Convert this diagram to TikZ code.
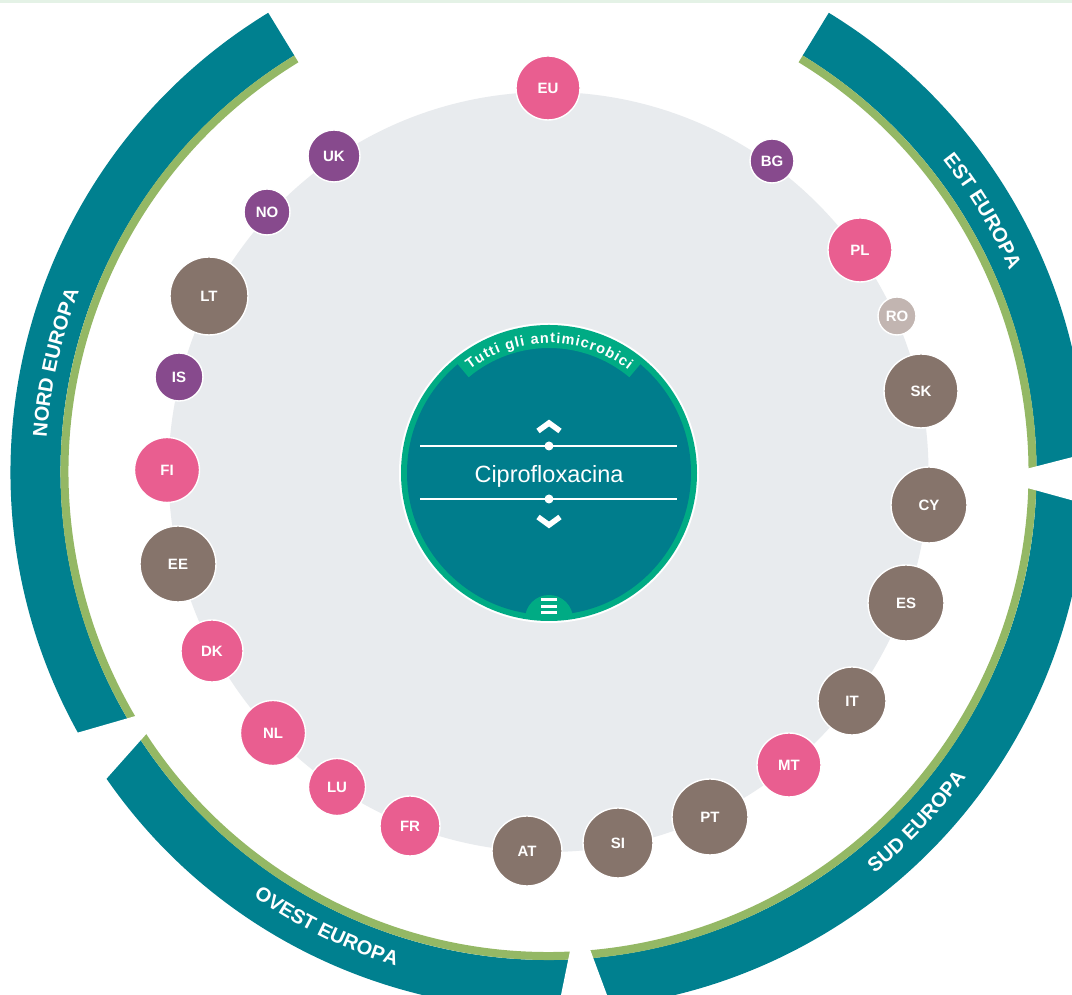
\documentclass[tikz,border=0pt]{standalone}
\usepackage{fontspec}
\setmainfont{Liberation Sans}
\usetikzlibrary{decorations.text}

\definecolor{bandteal}{HTML}{00808F}
\definecolor{bandgreen}{HTML}{94B865}
\definecolor{diskgrey}{HTML}{E8EBEE}
\definecolor{topstrip}{HTML}{E4F2E6}
\definecolor{ringgreen}{HTML}{00AB84}
\definecolor{hubteal}{HTML}{007D8C}
\definecolor{cpink}{HTML}{E95E90}
\definecolor{cpurple}{HTML}{874A8D}
\definecolor{cbrown}{HTML}{86746B}
\definecolor{clight}{HTML}{C2B5B1}

\newcommand\bandfont{\fontsize{20}{20}\selectfont\bfseries}
\newcommand\tabfont{\fontsize{14.5}{14.5}\selectfont\bfseries}
\newcommand\codefont{\fontsize{15}{15}\selectfont\bfseries}

\tikzset{
  ctry/.style={circle, draw=white, line width=1.4pt, text=white, font=\codefont, inner sep=0pt},
  pinkc/.style={ctry, fill=cpink},
  purplec/.style={ctry, fill=cpurple},
  brownc/.style={ctry, fill=cbrown},
  lightc/.style={ctry, fill=clight},
  bandlabel/.style={decorate, decoration={text along path, text align=center, text color=white, text={|\bandfont|#1}}},
  wline/.style={white, line width=1.5pt},
  chevron/.style={white, line width=5.5pt, line join=miter},
}

\begin{document}
\begin{tikzpicture}[x=1pt, y=1pt]
\useasboundingbox (0,0) rectangle (1072,995);
\clip (0,0) rectangle (1072,995);
\fill[white] (0,0) rectangle (1072,995);
\fill[topstrip] (0,992) rectangle (1072,995);

% grey disk carrying the country markers
\fill[diskgrey] (548.5,523) circle[radius=380];

% regional ring: teal band with a green inner edge
\begin{scope}[shift={(548.5,523)}]
  \fill[bandteal] (121.4:538) arc[start angle=121.4, end angle=418.6, radius=538]
     -- (418.6:488) arc[start angle=418.6, end angle=121.4, radius=488] -- cycle;
  \fill[bandgreen] (121.4:488) arc[start angle=121.4, end angle=418.6, radius=488]
     -- (418.6:480) arc[start angle=418.6, end angle=121.4, radius=480] -- cycle;
\end{scope}

% wedge-shaped cuts between the regions
\fill[white] (991,517) -- (1100,545) -- (1100,487) -- cycle;
\fill[white] (171.6,289.4) -- (21,246) -- (67,172) -- cycle;
\fill[white] (577.3,79.9) -- (551,-49) -- (626,-51) -- cycle;

% region names along the band
\begin{scope}[shift={(548.5,523)}]
  \path[bandlabel={NORD EUROPA}] (200:503) arc[start angle=200, end angle=135, radius=503];
  \path[bandlabel={EST EUROPA}] (63:503) arc[start angle=63, end angle=-1, radius=503];
  \path[bandlabel={SUD EUROPA}] (-75:517) arc[start angle=-75, end angle=-12, radius=517];
  \path[bandlabel={OVEST EUROPA}] (212:517) arc[start angle=212, end angle=276, radius=517];
\end{scope}

% central selector
\begin{scope}[shift={(549,522)}]
  \fill[white] (0,0) circle[radius=150];
  \fill[ringgreen] (0,0) circle[radius=148];
  \fill[hubteal] (0,0) circle[radius=142];
  \fill[ringgreen] (130:145) arc[start angle=130, end angle=50, radius=145]
     -- (50:125) arc[start angle=50, end angle=130, radius=125] -- cycle;
  \path[decorate, decoration={text along path, text align={fit to path}, text color=white,
      text={|\tabfont|Tutti gli antimicrobici}}]
      (127.5:130) arc[start angle=127.5, end angle=52.5, radius=130];
  \begin{scope}
    \clip (0,0) circle[radius=146];
    \fill[ringgreen] (0,-146) circle[radius=24];
  \end{scope}
  \draw[wline] (-129,27) -- (128,27);
  \draw[wline] (-129,-26) -- (128,-26);
  \fill[white] (0,27) circle[radius=4.5];
  \fill[white] (0,-26) circle[radius=4.5];
  \draw[chevron] (-11,42) -- (0,50) -- (11,42);
  \draw[chevron] (-11,-44) -- (0,-52) -- (11,-44);
  \node[anchor=base, text=white, font=\fontsize{23.5}{23.5}\selectfont] (drug) at (0,-10) {Ciprofloxacina};
  \draw[white, line width=3pt] (-8,-127) -- (8,-127);
  \draw[white, line width=3pt] (-8,-133.5) -- (8,-133.5);
  \draw[white, line width=3pt] (-8,-140) -- (8,-140);
\end{scope}

% country markers
\node[pinkc, minimum size=64pt] (EU) at (548,{995-88}) {EU};
\node[purplec, minimum size=44pt] (BG) at (772,{995-161}) {BG};
\node[pinkc, minimum size=64pt] (PL) at (860,{995-250}) {PL};
\node[lightc, minimum size=38pt] (RO) at (897,{995-316}) {RO};
\node[brownc, minimum size=74pt] (SK) at (921,{995-391}) {SK};
\node[brownc, minimum size=76pt] (CY) at (929,{995-505}) {CY};
\node[brownc, minimum size=76pt] (ES) at (906,{995-603}) {ES};
\node[brownc, minimum size=68pt] (IT) at (852,{995-701}) {IT};
\node[pinkc, minimum size=64pt] (MT) at (789,{995-765}) {MT};
\node[brownc, minimum size=76pt] (PT) at (710,{995-817}) {PT};
\node[brownc, minimum size=70pt] (SI) at (618,{995-843}) {SI};
\node[brownc, minimum size=70pt] (AT) at (527,{995-851}) {AT};
\node[pinkc, minimum size=60pt] (FR) at (410,{995-826}) {FR};
\node[pinkc, minimum size=57pt] (LU) at (337,{995-787}) {LU};
\node[pinkc, minimum size=65pt] (NL) at (273,{995-733}) {NL};
\node[pinkc, minimum size=62pt] (DK) at (212,{995-651}) {DK};
\node[brownc, minimum size=76pt] (EE) at (178,{995-564}) {EE};
\node[pinkc, minimum size=65pt] (FI) at (167,{995-470}) {FI};
\node[purplec, minimum size=48pt] (IS) at (179,{995-377}) {IS};
\node[brownc, minimum size=78pt] (LT) at (209,{995-296}) {LT};
\node[purplec, minimum size=46pt] (NO) at (267,{995-212}) {NO};
\node[purplec, minimum size=52pt] (UK) at (334,{995-156}) {UK};
\end{tikzpicture}
\end{document}
